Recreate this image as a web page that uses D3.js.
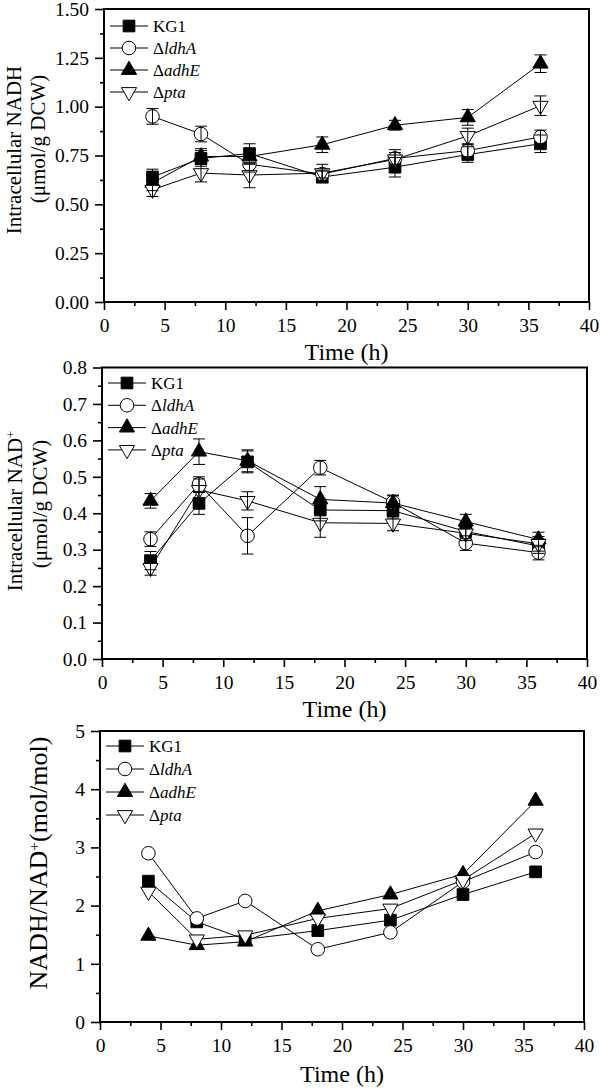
<!DOCTYPE html>
<html>
<head>
<meta charset="utf-8">
<script src="https://cdn.jsdelivr.net/npm/d3@7"></script>
<style>
    body { margin: 0; background: #fff; }
    svg { display: block; }
    svg text { font-family: "Liberation Serif", "Times New Roman", serif; font-weight: normal; }
</style>
</head>
<body>
<svg id="chart" width="600" height="1088"></svg>
<script>

// sampling times (h)
var times = [4, 8, 12, 18, 24, 30, 36];
var xTicks = [0, 5, 10, 15, 20, 25, 30, 35, 40];

// legend names (gene part is italic, KG1 is the parent strain)
var strains = ["KG1", "ldhA", "adhE", "pta"];

// intracellular NADH (umol/g DCW)
var nadhKG1 = [0.64, 0.735, 0.76, 0.64, 0.69, 0.755, 0.81];
var nadhLdhA = [0.95, 0.86, 0.705, 0.655, 0.735, 0.775, 0.845];
var nadhAdhE = [0.61, 0.745, 0.745, 0.805, 0.905, 0.945, 1.22];
var nadhPta = [0.575, 0.66, 0.65, 0.66, 0.73, 0.85, 1.005];

var nadhKG1Err = [0.04, 0.04, 0.05, 0.03, 0.05, 0.04, 0.045];
var nadhLdhAErr = [0.04, 0.04, 0.04, 0.02, 0.03, 0.03, 0.035];
var nadhAdhEErr = [0.04, 0.04, 0.04, 0.04, 0.025, 0.04, 0.045];
var nadhPtaErr = [0.035, 0.045, 0.065, 0.045, 0.05, 0.04, 0.05];

// intracellular NAD+ (umol/g DCW)
var nadKG1 = [0.27, 0.427, 0.541, 0.409, 0.407, 0.35, 0.31];
var nadLdhA = [0.329, 0.48, 0.338, 0.525, 0.43, 0.318, 0.292];
var nadAdhE = [0.434, 0.569, 0.544, 0.438, 0.428, 0.377, 0.328];
var nadPta = [0.25, 0.464, 0.434, 0.374, 0.372, 0.345, 0.316];

var nadKG1Err = [0.025, 0.03, 0.03, 0.03, 0.02, 0.02, 0.02];
var nadLdhAErr = [0.02, 0.02, 0.05, 0.02, 0.02, 0.02, 0.02];
var nadAdhEErr = [0.02, 0.035, 0.03, 0.035, 0.02, 0.02, 0.02];
var nadPtaErr = [0.02, 0.03, 0.025, 0.04, 0.02, 0.02, 0.02];

// NADH/NAD+ ratio (mol/mol)
var ratioKG1 = [2.42, 1.72, 1.42, 1.57, 1.75, 2.19, 2.58];
var ratioLdhA = [2.90, 1.78, 2.08, 1.25, 1.54, 2.41, 2.92];
var ratioAdhE = [1.48, 1.32, 1.38, 1.91, 2.19, 2.54, 3.80];
var ratioPta = [2.24, 1.42, 1.49, 1.78, 1.95, 2.44, 3.24];


var SERIF = "'Liberation Serif', 'Times New Roman', serif";

class LinePanel {

    constructor(svg, opts) {
        this.svg = svg;
        this.opts = opts;
        this.g = svg.append("g");

        // marker styles, one per strain
        this.markers = [
            { type: d3.symbolSquare, size: 136, fill: "black", rotate: 0 },
            { type: d3.symbolCircle, size: 145, fill: "white", rotate: 0 },
            { type: d3.symbolTriangle, size: 100, fill: "black", rotate: 0 },
            { type: d3.symbolTriangle, size: 100, fill: "white", rotate: 180 }
        ];
    }

    setup() {
        this.computeScales();
        this.drawSeries();
        this.drawAxes();
        this.drawLegend();
        this.drawTitles();
    }

    computeScales() {
        var o = this.opts;
        this.x = d3.scaleLinear().domain([0, 40]).range([o.left, o.right]);
        this.y = d3.scaleLinear().domain(o.yDomain).range([o.bottom, o.top]);
    }

    drawAxes() {
        var o = this.opts;
        var x = this.x;
        var y = this.y;

        var yMajor = d3.range(o.yDomain[0], o.yDomain[1] + o.yStep / 2, o.yStep);
        var yMinor = d3.range(o.yDomain[0] + o.yStep / 2, o.yDomain[1], o.yStep);
        var xMinor = d3.range(2.5, 40, 5);

        // minor ticks
        this.g.append("g")
            .attr("transform", "translate(" + o.left + ",0)")
            .call(d3.axisLeft(y).tickValues(yMinor).tickSize(4).tickFormat(""));
        this.g.append("g")
            .attr("transform", "translate(0," + o.bottom + ")")
            .call(d3.axisBottom(x).tickValues(xMinor).tickSize(4).tickFormat(""));

        // major ticks with labels
        var yAxis = this.g.append("g")
            .attr("transform", "translate(" + o.left + ",0)")
            .call(d3.axisLeft(y).tickValues(yMajor).tickSize(9).tickPadding(6)
                .tickFormat(d3.format(o.yFormat)));
        var xAxis = this.g.append("g")
            .attr("transform", "translate(0," + o.bottom + ")")
            .call(d3.axisBottom(x).tickValues(xTicks).tickSize(8).tickPadding(8)
                .tickFormat(d3.format("d")));

        this.g.selectAll(".domain").remove();
        this.g.selectAll(".tick line").attr("stroke", "black").attr("stroke-width", 1.6);
        [yAxis, xAxis].forEach(function (a) {
            a.attr("font-family", null).attr("font-size", null);
            a.selectAll("text")
                .attr("fill", "black")
                .style("font-size", "19.5px")
                .style("font-family", SERIF);
        });

        // box frame
        this.g.append("rect")
            .attr("x", o.left)
            .attr("y", o.top)
            .attr("width", o.right - o.left)
            .attr("height", o.bottom - o.top)
            .attr("fill", "none")
            .attr("stroke", "black")
            .attr("stroke-width", 2);
    }

    drawMarker(parent, idx, cx, cy) {
        var m = this.markers[idx];
        parent.append("path")
            .attr("d", d3.symbol().type(m.type).size(m.size)())
            .attr("transform", "translate(" + cx + "," + cy + ") rotate(" + m.rotate + ")")
            .attr("fill", m.fill)
            .attr("stroke", "black")
            .attr("stroke-width", 1);
    }

    drawSeries() {
        var o = this.opts;
        var x = this.x;
        var y = this.y;
        var line = d3.line()
            .x(function (d, i) { return x(times[i]); })
            .y(function (d) { return y(d); });

        for (var s = 0; s < o.series.length; s += 1) {
            this.g.append("path")
                .attr("d", line(o.series[s]))
                .attr("fill", "none")
                .attr("stroke", "black")
                .attr("stroke-width", 1);
        }

        for (var s = 0; s < o.series.length; s += 1) {
            for (var i = 0; i < times.length; i += 1) {
                this.drawMarker(this.g, s, x(times[i]), y(o.series[s][i]));
            }
        }

        if (o.errors) {
            var cap = 6;
            for (var s = 0; s < o.errors.length; s += 1) {
                for (var i = 0; i < times.length; i += 1) {
                    var v = o.series[s][i];
                    var e = o.errors[s][i];
                    var cx = x(times[i]);
                    var y0 = y(v - e);
                    var y1 = y(v + e);
                    var p = d3.path();
                    p.moveTo(cx, y0); p.lineTo(cx, y1);
                    p.moveTo(cx - cap, y0); p.lineTo(cx + cap, y0);
                    p.moveTo(cx - cap, y1); p.lineTo(cx + cap, y1);
                    this.g.append("path")
                        .attr("d", p.toString())
                        .attr("stroke", "black")
                        .attr("stroke-width", 1)
                        .attr("fill", "none");
                }
            }
        }
    }

    drawLegend() {
        var o = this.opts;
        for (var idx = 0; idx < strains.length; idx += 1) {
            var yy = o.legendTop + o.legendStep * idx;
            var lx = o.left + 6;

            this.g.append("line")
                .attr("x1", lx).attr("x2", lx + 38)
                .attr("y1", yy).attr("y2", yy)
                .attr("stroke", "black").attr("stroke-width", 1);
            this.drawMarker(this.g, idx, lx + 19, yy);

            var t = this.g.append("text")
                .attr("x", lx + 43)
                .attr("y", yy + 6)
                .style("font-family", SERIF)
                .style("font-size", "17px")
                .attr("fill", "black");
            if (idx === 0) {
                t.text(strains[idx]);
            } else {
                t.append("tspan").text("\u0394");
                t.append("tspan").style("font-style", "italic").text(strains[idx]);
            }
        }
    }

    drawTitles() {
        var o = this.opts;

        this.g.append("text")
            .attr("x", (o.left + o.right) / 2)
            .attr("y", o.bottom + o.xTitleDy)
            .attr("text-anchor", "middle")
            .style("font-family", SERIF)
            .style("font-size", "24px")
            .attr("fill", "black")
            .text("Time (h)");

        for (var k = 0; k < o.yTitle.length; k += 1) {
            var tl = o.yTitle[k];
            var t = this.g.append("text")
                .attr("transform", "translate(" + tl.x + "," + tl.y + ") rotate(-90)")
                .attr("text-anchor", "middle")
                .style("font-family", SERIF)
                .style("font-size", tl.size + "px")
                .attr("fill", "black");
            tl.parts.forEach(function (part) {
                var ts = t.append("tspan").text(part.text);
                if (part.sup) {
                    ts.attr("baseline-shift", "super").style("font-size", "0.6em");
                }
            });
        }
    }
}


var svg = d3.select("#chart");
svg.append("rect").attr("width", 600).attr("height", 1088).attr("fill", "white");

var nadhPanel = new LinePanel(svg, {
    left: 104, right: 589, top: 9, bottom: 302,
    yDomain: [0, 1.5], yStep: 0.25, yFormat: ".2f",
    series: [nadhKG1, nadhLdhA, nadhAdhE, nadhPta],
    errors: [nadhKG1Err, nadhLdhAErr, nadhAdhEErr, nadhPtaErr],
    legendTop: 26, legendStep: 22, xTitleDy: 58,
    yTitle: [
        { x: 21, y: 150, size: 21, parts: [{ text: "Intracellular NADH" }] },
        { x: 45, y: 139, size: 21, parts: [{ text: "(\u03bcmol/g DCW)" }] }
    ]
});
nadhPanel.setup();

var nadPanel = new LinePanel(svg, {
    left: 102, right: 587, top: 367.5, bottom: 659,
    yDomain: [0, 0.8], yStep: 0.1, yFormat: ".1f",
    series: [nadKG1, nadLdhA, nadAdhE, nadPta],
    errors: [nadKG1Err, nadLdhAErr, nadAdhEErr, nadPtaErr],
    legendTop: 383, legendStep: 22.3, xTitleDy: 58,
    yTitle: [
        { x: 22, y: 511, size: 21, parts: [{ text: "Intracellular NAD" }, { text: "+", sup: true }] },
        { x: 47, y: 504, size: 21, parts: [{ text: "(\u03bcmol/g DCW)" }] }
    ]
});
nadPanel.setup();

var ratioPanel = new LinePanel(svg, {
    left: 100, right: 584, top: 731, bottom: 1022,
    yDomain: [0, 5], yStep: 1, yFormat: "d",
    series: [ratioKG1, ratioLdhA, ratioAdhE, ratioPta],
    errors: null,
    legendTop: 746, legendStep: 23, xTitleDy: 60,
    yTitle: [
        { x: 47, y: 863, size: 26, parts: [{ text: "NADH/NAD" }, { text: "+", sup: true }, { text: "(mol/mol)" }] }
    ]
});
ratioPanel.setup();

</script>
</body>
</html>
